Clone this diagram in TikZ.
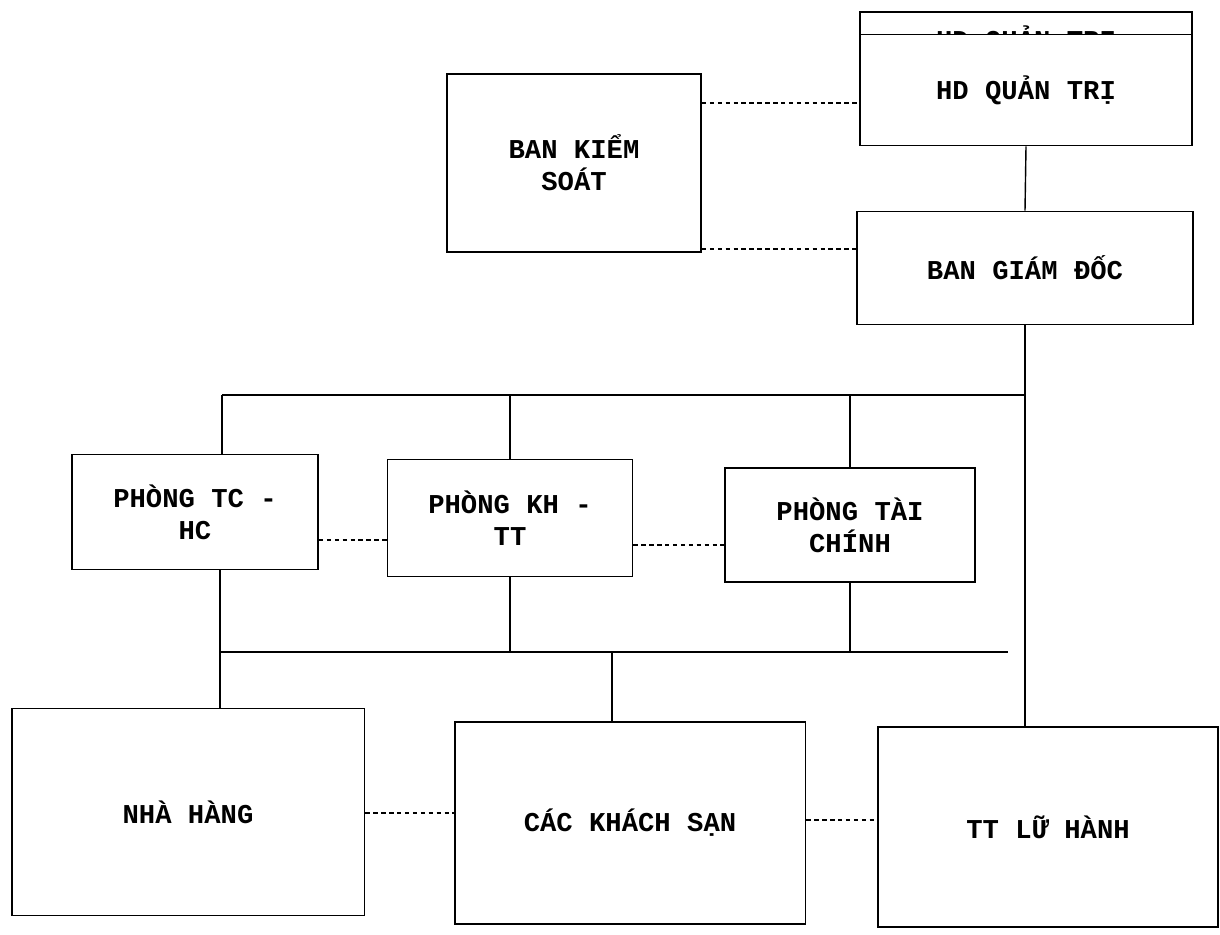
\documentclass[tikz,border=0pt]{standalone}
\usepackage{fontspec}
\newfontfamily\typefont{Liberation Mono}
\begin{document}
\begin{tikzpicture}[x=0.02cm,y=-0.02cm,
  box/.style={draw,line width=1.1pt,fill=white,align=center,inner sep=0pt,
    font=\typefont\bfseries\fontsize{15.5}{18.2}\selectfont},
  link/.style={line width=0.8pt},
  dotlink/.style={line width=0.8pt,dash pattern=on 2.5pt off 2pt}]
\useasboundingbox (0,0) rectangle (1220,935);
% copy of the board box, showing behind it
\draw[line width=1.1pt] (860,12) rectangle (1192,60);
\node[font=\typefont\bfseries\fontsize{15.5}{18.2}\selectfont] (hdback) at (1026,40) {HD QUẢN TRỊ};
% top
\node[box,minimum width=5.08cm,minimum height=3.56cm] (kiemsoat) at (574,163) {BAN KIỂM\\SOÁT};
\node[box,minimum width=6.64cm,minimum height=2.22cm] (hdqt) at (1026,90) {HD QUẢN TRỊ};
\node[box,minimum width=6.72cm,minimum height=2.26cm] (giamdoc) at (1025,268) {BAN GIÁM ĐỐC};
% phong ban
\node[box,minimum width=4.92cm,minimum height=2.3cm] (tchc) at (195,512) {PHÒNG TC -\\HC};
\node[box,minimum width=4.9cm,minimum height=2.34cm] (khtt) at (510,518) {PHÒNG KH -\\TT};
\node[box,minimum width=5cm,minimum height=2.28cm] (taichinh) at (850,525) {PHÒNG TÀI\\CHÍNH};
% don vi
\node[box,minimum width=7.06cm,minimum height=4.14cm] (nhahang) at (188,812) {NHÀ HÀNG};
\node[box,minimum width=7.02cm,minimum height=4.04cm] (khachsan) at (630,823) {CÁC KHÁCH SẠN};
\node[box,minimum width=6.8cm,minimum height=4cm] (luhanh) at (1048,827) {TT LỮ HÀNH};

\coordinate (bus1l) at (222,395);
\coordinate (bus1r) at (giamdoc.south |- bus1l);
\coordinate (bus2l) at (220,652);
\coordinate (bus2r) at (1008,652);
\coordinate (bus2m) at (612,652);

\draw[dotlink] (kiemsoat.east |- 0,103) -- (hdqt.west |- 0,103);
\draw[dotlink] (kiemsoat.east |- 0,249) -- (giamdoc.west |- 0,249);
\draw[link] (hdqt.south) -- (giamdoc.north);
\draw[link] (giamdoc.south) -- (giamdoc.south |- luhanh.north);
\draw[link] (bus1l) -- (bus1r);
\draw[link] (bus1l) -- (bus1l |- tchc.north);
\draw[link] (khtt.north |- bus1l) -- (khtt.north);
\draw[link] (taichinh.north |- bus1l) -- (taichinh.north);
\draw[dotlink] (tchc.east |- 0,540) -- (khtt.west |- 0,540);
\draw[dotlink] (khtt.east |- 0,545) -- (taichinh.west |- 0,545);
\draw[link] (tchc.south -| bus2l) -- (bus2l);
\draw[link] (khtt.south) -- (khtt.south |- bus2l);
\draw[link] (taichinh.south) -- (taichinh.south |- bus2l);
\draw[link] (bus2l) -- (bus2r);
\draw[link] (bus2l) -- (bus2l |- nhahang.north);
\draw[link] (bus2m) -- (bus2m |- khachsan.north);
\draw[dotlink] (nhahang.east |- 0,813) -- (khachsan.west |- 0,813);
\draw[dotlink] (khachsan.east |- 0,820) -- (luhanh.west |- 0,820);
\end{tikzpicture}
\end{document}
